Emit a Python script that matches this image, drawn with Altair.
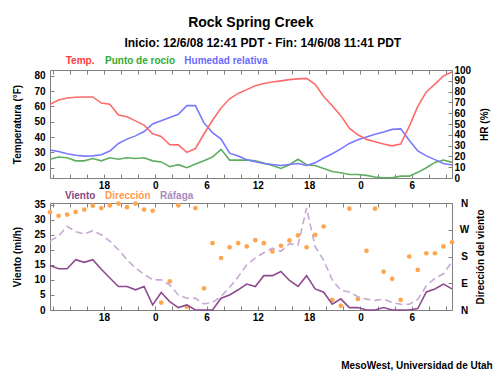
import altair as alt
import pandas as pd

FONT = "Liberation Sans"

# ---------------- data (hourly observations, hours since 0:00 12/6/08) ----------------
obs_hour = [11.7, 12.7, 13.7, 14.7, 15.7, 16.7, 17.7, 18.7, 19.7, 20.7,
            21.7, 22.7, 23.7, 24.7, 25.7, 26.7, 27.7, 28.7, 29.7, 30.7,
            31.7, 32.7, 33.7, 34.7, 35.7, 36.7, 37.7, 38.7, 39.7, 40.7,
            41.7, 42.7, 43.7, 44.7, 45.7, 46.7, 47.7, 48.7, 49.7, 50.7,
            51.7, 52.7, 53.7, 54.7, 55.7, 56.7, 57.7, 58.7]

temp = [61.5, 64.2, 65.5, 66, 66.2, 66.2, 62.2, 61.5, 54.4, 53.3,
        50.6, 47.8, 42.2, 40.4, 35, 34.9, 30, 32.5, 42, 51,
        59, 65, 68.5, 71, 73.5, 75, 76, 76.7, 77.5, 78,
        78.3, 74.5, 66.5, 60.5, 54, 45.8, 41.5, 38.5, 37, 35.5,
        34.3, 35.4, 47, 60, 69.5, 74.6, 80, 82.5]

dew = [25.5, 27, 26.5, 24.5, 24.5, 26, 24.5, 26.5, 25.5, 26.5,
       26, 26.5, 24.5, 23.8, 20.7, 22, 20, 22.5, 24.5, 27,
       32, 25, 25, 25, 24.5, 23, 21.5, 19.5, 22, 25.5,
       22, 21.5, 19.5, 17.5, 16.7, 15.6, 15.6, 15, 14, 13.5,
       13.5, 14.5, 14.5, 17, 20, 23.5, 25, 23.5]

rh = [26, 24.5, 22.5, 21, 20.3, 20.5, 21.5, 25, 32, 36,
      39, 43, 50, 53, 56, 59, 67, 67, 51, 42,
      36, 23, 20.3, 17, 15, 13.5, 12.5, 11.6, 12.5, 13.4,
      11.6, 14, 18.5, 22.5, 27, 32, 35.5, 38, 40.5, 42.5,
      45, 45.5, 35, 25, 20.5, 17, 13.5, 12]

wind = [14.8, 13.7, 13.7, 16.7, 15.8, 16.7, 13.5, 10.6, 7.8, 7.8,
        6.7, 7.8, 1.7, 5.8, 2.8, 0.8, 1.7, 0, 0, 0,
        3.9, 5, 6.7, 8.6, 7.8, 11.4, 11.4, 12.8, 9.8, 7.8,
        11.4, 7, 5.9, 1.9, 3.7, 0.8, 0.8, 0, 0, 0.8,
        0, 0, 0, 0.5, 6, 7, 8.6, 7]

gust = [23, 24.5, 27.8, 26, 25.2, 26.3, 25, 22.8, 20, 16.7,
        13.9, 11.9, 10, 10, 8.3, 5, 3.9, 3.9, 2, 2.5,
        4.5, 7.5, 11, 15, 17.2, 19, 20.5, 19.5, 22, 21.5,
        33.9, 21, 16.5, 10, 6.5, 6, 4.4, 3.6, 3.2, 3.6,
        2.5, 1.9, 1.9, 3.5, 8, 10.5, 12, 16]

wdir = [329, 317, 321, 330, 338, 351, 343, 352, 358, 346,
        358, 338, 334, 25, 96, 352, 11, 343, 73, 225,
        175, 211, 225, 214, 235, 225, 197, 216, 234, 251,
        211, 253, 281, 34, 14, 341, 37, 199, 341, 129,
        105, 34, 180, 135, 191, 191, 214, 228]

x_domain = [11.7, 58.7]
x_tick_hours = list(range(12, 59, 2))
temp_domain = [13.3, 83.8]
temp_ticks = [20, 30, 40, 50, 60, 70, 80]
rh_domain = [0, 100]
rh_ticks = [0, 10, 20, 30, 40, 50, 60, 70, 80, 90, 100]
wind_domain = [0, 35.5]
wind_ticks = [0, 5, 10, 15, 20, 25, 30, 35]
dir_domain = [0, 360]
dir_ticks = [0, 90, 180, 270, 360]

title_text = "Rock Spring Creek"
subtitle_text = "Inicio: 12/6/08 12:41 PDT - Fin: 14/6/08 11:41 PDT"
top_legend = ["Temp.", "Punto de rocío", "Humedad relativa"]
bottom_legend = ["Viento", "Dirección", "Ráfaga"]
footer_text = "MesoWest, Universidad de Utah"
temp_title = "Temperatura (°F)"
rh_title = "HR (%)"
wind_title = "Viento (mi/h)"
dir_title = "Dirección del viento"

# ---------------- style ----------------
C_TEMP, C_DEW, C_RH = "#ff6b6b", "#5fae5f", "#7878ff"
C_WIND, C_DIR, C_GUST = "#8e4a8e", "#ffa54f", "#c7a9d6"
L_TEMP, L_DEW, L_RH = "#ff3c3c", "#33aa33", "#6a6aff"
L_WIND, L_DIR, L_GUST = "#874587", "#ff9a4a", "#a98bbd"
FRAME = "#808080"
W, H1, H2 = 402, 108, 107

df = pd.DataFrame({"h": obs_hour, "temp": temp, "dew": dew, "rh": rh,
                   "wind": wind, "gust": gust, "wdir": wdir})
base = alt.Chart(df)

common = dict(domain=False, grid=False, ticks=True, tickSize=4, offset=-4,
              tickColor=FRAME, tickWidth=1, labelFont=FONT, labelFontSize=10,
              labelFontWeight="bold", labelColor="black", titleFont=FONT,
              titleFontSize=10, titleFontWeight="bold", titleColor="black")

xs = alt.Scale(domain=x_domain, nice=False, zero=False)
x_lab = "datum.value >= 18 && datum.value % 6 == 0 ? '' + (datum.value % 24) : ''"


def x_bottom(pad):
    return alt.Axis(orient="bottom", values=x_tick_hours, labelExpr=x_lab,
                    labelPadding=pad, labelFlush=False, labelOverlap=False,
                    title=None, **common)


def x_top():
    return alt.Axis(orient="top", values=x_tick_hours, labels=False,
                    title=None, **common)


def text_layer(txt, x, y, size, color="black", align="left", weight="bold"):
    return alt.Chart(pd.DataFrame({"t": [txt]})).mark_text(
        align=align, baseline="middle", font=FONT, fontSize=size,
        fontWeight=weight, color=color
    ).encode(x=alt.value(x), y=alt.value(y), text="t:N")


tscale = alt.Scale(domain=temp_domain, nice=False, zero=False)

temp_line = base.mark_line(color=C_TEMP, strokeWidth=1.6).encode(
    x=alt.X("h:Q", scale=xs, axis=x_bottom(2)),
    y=alt.Y("temp:Q", scale=tscale,
            axis=alt.Axis(orient="left", values=temp_ticks, labelPadding=5,
                          title=temp_title, titlePadding=11, **common)))
dew_line = base.mark_line(color=C_DEW, strokeWidth=1.6).encode(
    x=alt.X("h:Q", scale=xs, axis=x_top()),
    y=alt.Y("dew:Q", scale=tscale, axis=None))
rh_line = base.mark_line(color=C_RH, strokeWidth=1.6).encode(
    x=alt.X("h:Q", scale=xs, axis=None),
    y=alt.Y("rh:Q", scale=alt.Scale(domain=rh_domain, nice=False),
            axis=alt.Axis(orient="right", values=rh_ticks, labelPadding=2,
                          title=rh_title, titleAngle=-90, titleBaseline="top",
                          titlePadding=9, **common)))

top = alt.layer(
    dew_line, rh_line, temp_line,
    text_layer(title_text, 200.8, -47, 14, align="center"),
    text_layer(subtitle_text, 212.8, -27.5, 12, align="center"),
    text_layer(top_legend[0], 15.7, -9, 10, L_TEMP),
    text_layer(top_legend[1], 55, -9, 10, L_DEW),
    text_layer(top_legend[2], 134.3, -9, 10, L_RH),
).resolve_scale(y="independent").resolve_axis(x="independent", y="independent").properties(
    width=W, height=H1)

wscale = alt.Scale(domain=wind_domain, nice=False, zero=False)
dir_lab = "datum.value == 90 ? 'E' : datum.value == 180 ? 'S' : datum.value == 270 ? 'W' : 'N'"

dir_pts = base.mark_circle(color=C_DIR, size=22, opacity=1).encode(
    x=alt.X("h:Q", scale=xs, axis=None),
    y=alt.Y("wdir:Q", scale=alt.Scale(domain=dir_domain, nice=False),
            axis=alt.Axis(orient="right", values=dir_ticks, labelExpr=dir_lab,
                          labelPadding=12, labelAlign="center",
                          title=dir_title, titleAngle=-90, titleBaseline="top",
                          titlePadding=7, **common)))
gust_line = base.mark_line(color=C_GUST, strokeWidth=1.6, strokeDash=[7, 4]).encode(
    x=alt.X("h:Q", scale=xs, axis=x_top()),
    y=alt.Y("gust:Q", scale=wscale, axis=None))
wind_line = base.mark_line(color=C_WIND, strokeWidth=1.6).encode(
    x=alt.X("h:Q", scale=xs, axis=x_bottom(2)),
    y=alt.Y("wind:Q", scale=wscale,
            axis=alt.Axis(orient="left", values=wind_ticks, labelPadding=5,
                          title=wind_title, titlePadding=11, **common)))

bottom = alt.layer(
    dir_pts, gust_line, wind_line,
    text_layer(bottom_legend[0], 15, -7, 10, L_WIND),
    text_layer(bottom_legend[1], 55, -7, 10, L_DIR),
    text_layer(bottom_legend[2], 110, -7, 10, L_GUST),
    text_layer(footer_text, 442.7, H2 + 56, 10, align="right"),
).resolve_scale(y="independent").resolve_axis(x="independent", y="independent").properties(
    width=W, height=H2)

chart = alt.vconcat(top, bottom, spacing=-1).properties(
    padding={"left": 12, "top": 15, "right": 4, "bottom": 4},
    background="white",
).configure_view(stroke=FRAME, strokeWidth=1)

chart.save("out.html", embed_options={"renderer": "svg", "actions": False})
